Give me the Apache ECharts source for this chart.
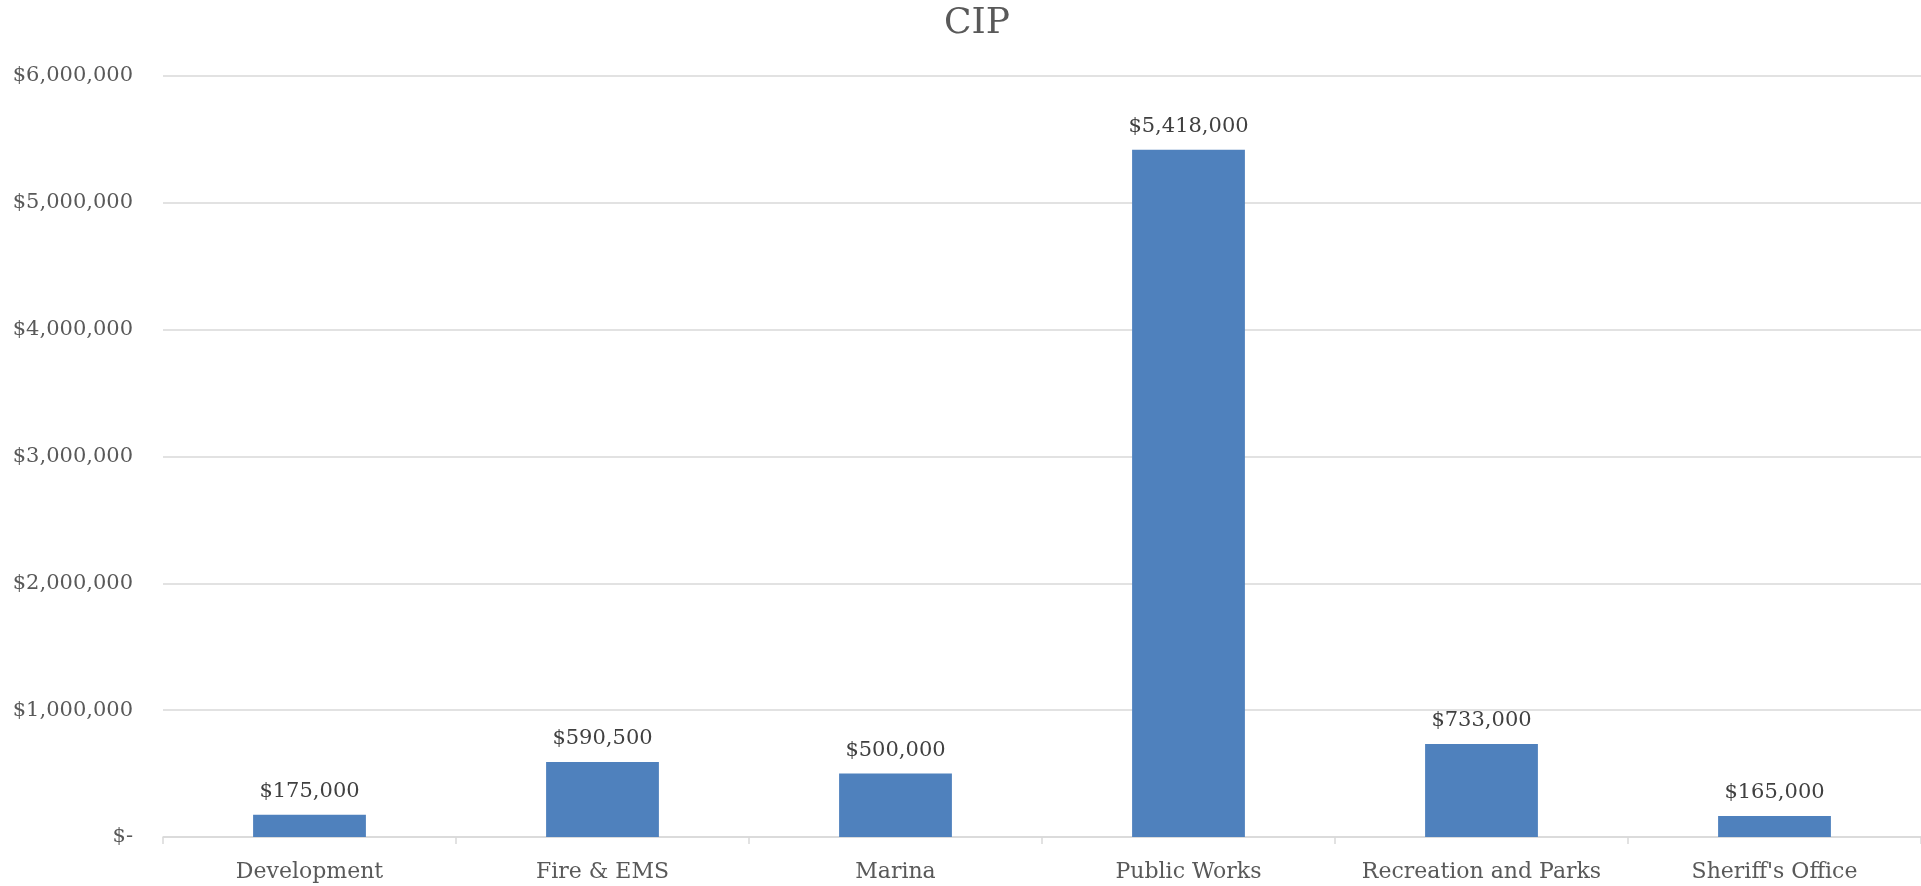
<!DOCTYPE html>
<html>
<head>
<meta charset="utf-8">
<script src="https://cdn.jsdelivr.net/npm/echarts@6/dist/echarts.min.js"></script>
<style>
  html, body { margin: 0; padding: 0; background: #fff; }
  #chart { width: 1921px; height: 886px; }
</style>
</head>
<body>
<div id="chart"></div>
<script>
// Capital improvement budget by department
const departments = ['Development', 'Fire & EMS', 'Marina', 'Public Works', 'Recreation and Parks', "Sheriff's Office"];
const cipAmounts = [175000, 590500, 500000, 5418000, 733000, 165000];

const FONT = '"DejaVu Serif", "Liberation Serif", serif';

function money(v) {
  if (v === 0) return '$-';
  return '$' + Math.round(v).toString().replace(/\B(?=(\d{3})+(?!\d))/g, ',');
}

const chart = echarts.init(document.getElementById('chart'), null, { renderer: 'canvas' });
chart.setOption({
  animation: false,
  backgroundColor: '#ffffff',
  title: {
    text: 'CIP',
    left: 972,
    top: 1,
    textAlign: 'center',
    textStyle: { fontFamily: FONT, fontSize: 36, fontWeight: 'normal', color: '#595959' }
  },
  grid: { left: 163, right: 0, top: 76, bottom: 49 },
  xAxis: {
    type: 'category',
    data: departments,
    axisLine: { lineStyle: { color: '#d9d9d9', width: 1.5 } },
    axisTick: { show: true, interval: 0, length: 7, lineStyle: { color: '#d9d9d9', width: 1.5 } },
    axisLabel: { interval: 0, hideOverlap: false, fontFamily: FONT, fontSize: 22, color: '#595959', margin: 24 }
  },
  yAxis: {
    type: 'value',
    min: 0,
    max: 6000000,
    interval: 1000000,
    axisLine: { show: false },
    axisTick: { show: false },
    splitLine: { lineStyle: { color: '#d9d9d9', width: 1.5 } },
    axisLabel: { fontFamily: FONT, fontSize: 21, color: '#595959', margin: 30, formatter: money }
  },
  series: [{
    type: 'bar',
    data: cipAmounts,
    barWidth: '38.5%',
    itemStyle: { color: '#4f81bd' },
    label: {
      show: true,
      position: 'top',
      distance: 13,
      fontFamily: FONT,
      fontSize: 21,
      color: '#404040',
      formatter: p => money(p.value)
    }
  }]
});
</script>
</body>
</html>
